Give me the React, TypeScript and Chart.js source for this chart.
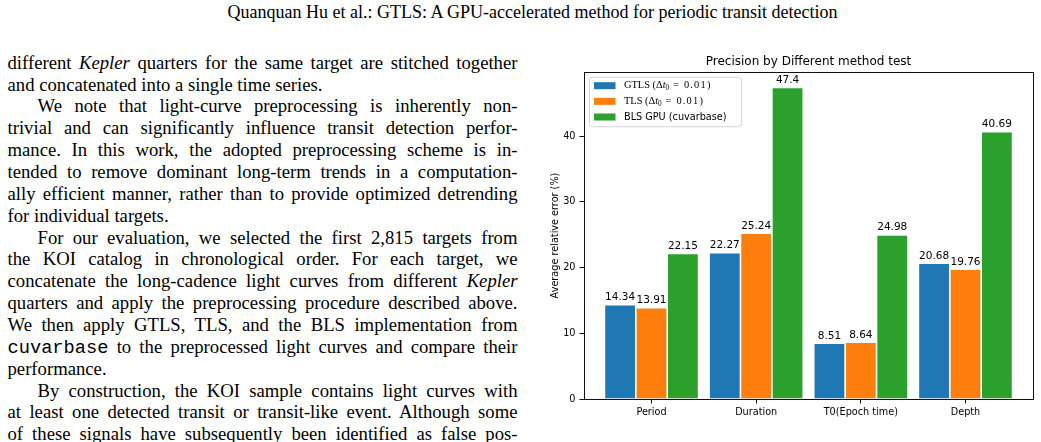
import React, { useEffect, useRef } from 'react';
import { Chart, registerables } from 'chart.js';

Chart.register(...registerables);

// ---- chart data ----
const categories = ['Period', 'Duration', 'T0(Epoch time)', 'Depth'];
const gtlsErrors = [14.34, 22.27, 8.51, 20.68];
const tlsErrors = [13.91, 25.24, 8.64, 19.76];
const blsGpuErrors = [22.15, 47.4, 24.98, 40.69];
const seriesNames = ['GTLS (Δt₀ = 0.01)', 'TLS (Δt₀ = 0.01)', 'BLS GPU (cuvarbase)'];
const seriesColors = ['#1f77b4', '#ff7f0e', '#2ca02c'];
const yTickValues = [0, 10, 20, 30, 40];
const yAxisMax = 49.77;
const chartTitle = 'Precision by Different method test';
const yAxisTitle = 'Average relative error (%)';

// ---- page text ----
const headerText = 'Quanquan Hu et al.: GTLS: A GPU-accelerated method for periodic transit detection';

type Seg = string | { i: string } | { tt: string };
type Line = { segs: Seg[]; indent?: boolean; end?: boolean };

const bodyLines: Line[] = [
  { segs: ['different ', { i: 'Kepler' }, ' quarters for the same target are stitched together'] },
  { segs: ['and concatenated into a single time series.'], end: true },
  { segs: ['We note that light-curve preprocessing is inherently non-'], indent: true },
  { segs: ['trivial and can significantly influence transit detection perfor-'] },
  { segs: ['mance. In this work, the adopted preprocessing scheme is in-'] },
  { segs: ['tended to remove dominant long-term trends in a computation-'] },
  { segs: ['ally efficient manner, rather than to provide optimized detrending'] },
  { segs: ['for individual targets.'], end: true },
  { segs: ['For our evaluation, we selected the first 2,815 targets from'], indent: true },
  { segs: ['the KOI catalog in chronological order. For each target, we'] },
  { segs: ['concatenate the long-cadence light curves from different ', { i: 'Kepler' }] },
  { segs: ['quarters and apply the preprocessing procedure described above.'] },
  { segs: ['We then apply GTLS, TLS, and the BLS implementation from'] },
  { segs: [{ tt: 'cuvarbase' }, ' to the preprocessed light curves and compare their'] },
  { segs: ['performance.'], end: true },
  { segs: ['By construction, the KOI sample contains light curves with'], indent: true },
  { segs: ['at least one detected transit or transit-like event. Although some'] },
  { segs: ['of these signals have subsequently been identified as false pos-'] },
];

const SANS = '"DejaVu Sans", sans-serif';
const SERIF = '"Liberation Serif", "Times New Roman", serif';

function drawSeriesName(ctx: CanvasRenderingContext2D, name: string, x: number, y: number) {
  const m = name.match(/^(.*?)Δt₀(.*)$/);
  ctx.textAlign = 'left';
  ctx.textBaseline = 'middle';
  ctx.fillStyle = '#000';
  if (!m) {
    ctx.font = `9.7px ${SANS}`;
    ctx.fillText(name, x, y);
    return;
  }
  let cx = x;
  const put = (txt: string, font: string, dy = 0, spacing = '0px') => {
    ctx.font = font;
    (ctx as any).letterSpacing = spacing;
    ctx.fillText(txt, cx, y + dy);
    cx += ctx.measureText(txt).width;
    (ctx as any).letterSpacing = '0px';
  };
  put(m[1], `10.4px ${SERIF}`);
  put('Δ', `10.4px ${SERIF}`);
  put('t', `italic 10.4px ${SERIF}`);
  put('0', `7.3px ${SERIF}`, 2.5);
  put(m[2], `10.4px ${SERIF}`, 0, '1.2px');
}

const framePlugin = {
  id: 'frame',
  afterDatasetsDraw(chart: any) {
    const { ctx, chartArea: a } = chart;
    ctx.save();
    ctx.strokeStyle = '#111';
    ctx.lineWidth = 1;
    ctx.strokeRect(Math.round(a.left) + 0.5, Math.round(a.top) + 0.5, Math.round(a.right - a.left), Math.round(a.bottom - a.top));
    ctx.restore();
  },
};

const valueLabelPlugin = {
  id: 'valueLabels',
  afterDatasetsDraw(chart: any) {
    const { ctx } = chart;
    ctx.save();
    ctx.font = `10.5px ${SANS}`;
    ctx.fillStyle = '#000';
    ctx.textAlign = 'center';
    ctx.textBaseline = 'alphabetic';
    chart.data.datasets.forEach((ds: any, di: number) => {
      const meta = chart.getDatasetMeta(di);
      meta.data.forEach((el: any, i: number) => {
        ctx.fillText(String(ds.data[i].y), el.x, el.y - 4.5);
      });
    });
    ctx.restore();
  },
};

const legendPlugin = {
  id: 'insetLegend',
  afterDraw(chart: any) {
    const { ctx, chartArea: a } = chart;
    const bx = a.left + 5;
    const by = a.top + 4.7;
    const bw = 152;
    const bh = 49.5;
    ctx.save();
    ctx.beginPath();
    ctx.roundRect(bx + 0.5, by + 0.5, bw, bh, 3);
    ctx.fillStyle = 'rgba(255,255,255,0.8)';
    ctx.fill();
    ctx.strokeStyle = '#d6d6d6';
    ctx.lineWidth = 1;
    ctx.stroke();
    chart.data.datasets.forEach((ds: any, di: number) => {
      const cy = by + 9 + di * 15.65;
      ctx.fillStyle = ds.backgroundColor;
      ctx.fillRect(bx + 5, cy - 3.5, 21.5, 7);
      drawSeriesName(ctx, ds.label, bx + 35, cy);
    });
    ctx.restore();
  },
};

function PrecisionChart() {
  const ref = useRef<HTMLCanvasElement | null>(null);

  useEffect(() => {
    if (!ref.current) return;
    const series = [gtlsErrors, tlsErrors, blsGpuErrors];
    const chart = new Chart(ref.current, {
      type: 'bar',
      data: {
        datasets: series.map((vals, si) => ({
          label: seriesNames[si],
          data: vals.map((y, i) => ({ x: i, y })),
          backgroundColor: seriesColors[si],
          borderColor: 'rgba(255,255,255,0.55)',
          borderWidth: 0.8,
          categoryPercentage: 0.9,
          barPercentage: 1.0,
        })),
      },
      options: {
        animation: false,
        responsive: false,
        events: [],
        layout: { padding: { left: 0, right: 8, top: 0, bottom: 0 } },
        plugins: {
          legend: { display: false },
          tooltip: { enabled: false },
          title: {
            display: true,
            text: chartTitle,
            fullSize: false,
            color: '#000',
            font: { size: 12, weight: 'normal', family: SANS },
            padding: { top: 10, bottom: 2.6 },
          },
        },
        scales: {
          x: {
            type: 'linear',
            min: -0.645,
            max: 3.645,
            offset: false,
            afterBuildTicks: (s: any) => {
              s.ticks = categories.map((_, i) => ({ value: i }));
            },
            afterFit: (s: any) => {
              s.height = 43;
            },
            grid: { offset: false, drawOnChartArea: false, drawTicks: true, tickLength: 4.5, color: '#111', lineWidth: 1 },
            border: { display: false },
            ticks: {
              callback: (v: any) => categories[v as number],
              color: '#000',
              font: { size: 9.7, family: SANS },
              padding: 3,
              maxRotation: 0,
              autoSkip: false,
            },
          },
          y: {
            type: 'linear',
            min: 0,
            max: yAxisMax,
            afterBuildTicks: (s: any) => {
              s.ticks = yTickValues.map((v) => ({ value: v }));
            },
            afterFit: (s: any) => {
              s.width = 44;
            },
            grid: { drawOnChartArea: false, drawTicks: true, tickLength: 4.5, color: '#111', lineWidth: 1 },
            border: { display: false },
            ticks: { color: '#000', font: { size: 9.7, family: SANS }, padding: 4 },
            title: {
              display: true,
              text: yAxisTitle,
              color: '#000',
              font: { size: 9.7, family: SANS },
              padding: { top: 9.5, bottom: 0 },
            },
          },
        },
      },
      plugins: [framePlugin, valueLabelPlugin, legendPlugin],
    } as any);
    return () => chart.destroy();
  }, []);

  return (
    <canvas
      ref={ref}
      width={501}
      height={397}
      style={{ position: 'absolute', left: 540, top: 45, width: 501, height: 397, display: 'block' }}
    />
  );
}

function renderSeg(seg: Seg, k: number) {
  if (typeof seg === 'string') return <span key={k}>{seg}</span>;
  if ('i' in seg) return <i key={k}>{seg.i}</i>;
  return (
    <span key={k} style={{ fontFamily: '"Liberation Mono", monospace' }}>
      {seg.tt}
    </span>
  );
}

export default function App() {
  const colLeft = 7.5;
  const colWidth = 510;
  const indent = 30;
  return (
    <div
      style={{
        position: 'absolute',
        left: 0,
        top: 0,
        width: 1041,
        height: 442,
        overflow: 'hidden',
        background: '#fff',
        color: '#000',
      }}
    >
      <div
        style={{
          position: 'absolute',
          left: 532.5,
          top: 1.5,
          transform: 'translateX(-50%)',
          whiteSpace: 'nowrap',
          fontFamily: SERIF,
          fontSize: 18,
          lineHeight: '20px',
        }}
      >
        {headerText}
      </div>
      <div
        style={{
          position: 'absolute',
          left: colLeft,
          top: 51.7,
          width: colWidth,
          fontFamily: SERIF,
          fontSize: 18.7,
          lineHeight: '21.87px',
        }}
      >
        {bodyLines.map((ln, li) => (
          <div
            key={li}
            style={{
              marginLeft: ln.indent ? indent : 0,
              width: ln.indent ? colWidth - indent : colWidth,
              whiteSpace: 'nowrap',
              textAlign: 'justify',
              textAlignLast: ln.end ? 'left' : 'justify',
              height: '21.87px',
            }}
          >
            {ln.segs.map(renderSeg)}
          </div>
        ))}
      </div>
      <PrecisionChart />
    </div>
  );
}
